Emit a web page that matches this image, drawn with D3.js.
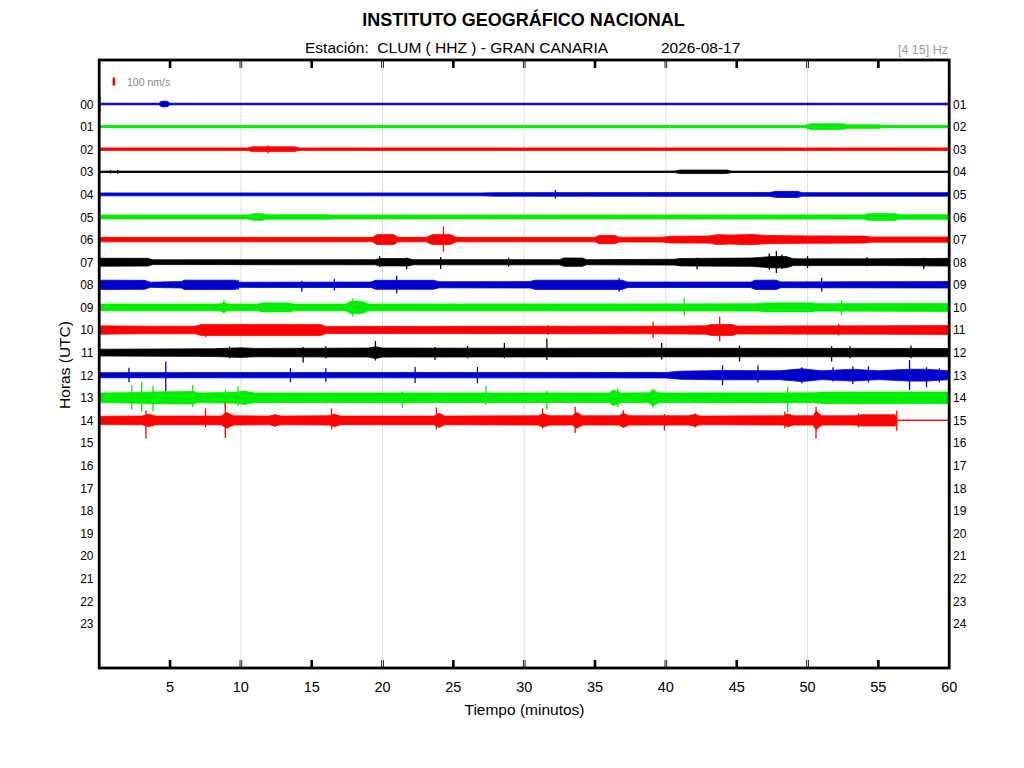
<!DOCTYPE html>
<html>
  <head>
    <meta charset="utf-8">
    <title>CLUM helicorder</title>
    <style>
      body { margin: 0; background: #fff; }
      text { font-family: "Liberation Sans", Arial, sans-serif; }
    </style>
  </head>
  <body>
    <script src="https://d3js.org/d3.v7.min.js"></script>
    <script>
      // hours shown on the drum (left labels) and the hour each line ends on (right labels)
      var hoursLeft = ['00','01','02','03','04','05','06','07','08','09','10','11','12','13','14','15','16','17','18','19','20','21','22','23'];
      var hoursRight = ['01','02','03','04','05','06','07','08','09','10','11','12','13','14','15','16','17','18','19','20','21','22','23','24'];
      var minuteTicks = [5,10,15,20,25,30,35,40,45,50,55,60];
      var gridMinutes = [10,20,30,40,50];
      var traceColors = ['#0000cc','#00ee00','#ff0000','#000000'];

      // envelope of each hour, [minute, half amplitude in nm/s]
      var env00 = [[0,10],[4.2,10],[4.4,35],[4.8,35],[5.0,10],[60,10]];
      var env01 = [[0,14],[49.8,14],[50.2,35],[52.5,35],[52.8,22],[55,22],[55.3,14],[60,14]];
      var env02 = [[0,16],[10.5,16],[10.8,30],[13.8,30],[14.1,16],[60,16]];
      var env03 = [[0,9],[40.6,9],[41,22],[44.3,22],[44.6,9],[60,9]];
      var env04 = [[0,18],[27,18],[28,22],[47.3,24],[47.8,38],[49.3,38],[49.6,22],[60,22]];
      var env05 = [[0,24],[10.5,24],[10.9,42],[11.5,42],[11.8,28],[16.2,28],[16.5,24],[54,26],[54.3,42],[56.2,42],[56.5,28],[60,28]];
      var env06 = [[0,28],[19.3,28],[19.6,62],[20.8,62],[21.1,28],[23.1,28],[23.5,62],[24.8,62],[25.2,28],[35,28],[35.3,52],[36.4,52],[36.7,30],[39.8,30],[40.3,42],[43,44],[43.6,62],[44.5,56],[46.1,64],[47,52],[50,46],[54,44],[54.5,32],[60,32]];
      var env07 = [[0,50],[3.4,48],[3.8,30],[19.5,32],[19.8,46],[21.8,46],[22.2,32],[32.5,32],[32.8,52],[34.1,52],[34.4,32],[40.6,36],[41,46],[46,52],[47.5,70],[48.5,70],[49,42],[55,42],[60,48]];
      var env08 = [[0,58],[3.2,56],[3.6,32],[5.8,40],[6,58],[9.6,58],[9.9,32],[19.2,34],[19.5,56],[23.6,56],[24,38],[30.4,40],[30.8,58],[36.9,58],[37.3,34],[46,34],[46.3,58],[47.8,58],[48.1,36],[60,40]];
      var env09 = [[0,42],[8.5,42],[8.8,62],[9.1,42],[11.2,42],[11.5,56],[13.4,56],[13.7,42],[17.4,42],[17.8,80],[18.6,74],[19,42],[41,44],[46.5,46],[47,56],[50.3,56],[50.6,46],[60,50]];
      var env10 = [[0,52],[3,48],[6.8,48],[7.2,70],[15.6,70],[16,44],[30,46],[39,48],[42.8,52],[43.2,68],[44.7,68],[45,50],[55,52],[60,56]];
      var env11 = [[0,42],[8,48],[10,60],[11,52],[19,56],[19.5,74],[20,56],[30,54],[60,52]];
      var env12 = [[0,32],[40,34],[41,50],[44,58],[48,55],[49.6,80],[51,55],[53.2,74],[55,55],[57.2,74],[58.4,74],[60,55]];
      var env13 = [[0,60],[2,64],[4,74],[6.6,78],[7,60],[9.7,68],[10.2,84],[11,60],[36,60],[36.3,98],[36.8,60],[38.8,62],[39.1,98],[39.5,60],[50.5,62],[51,72],[60,72]];
      var env14 = [[0,52],[3,54],[3.5,78],[4,54],[8.6,54],[9,98],[9.5,58],[12,54],[12.4,70],[12.8,54],[16.3,58],[16.6,80],[17,54],[23.6,54],[24,88],[24.4,54],[31,58],[31.3,84],[31.8,58],[33.4,58],[33.7,98],[34.1,58],[36.7,58],[37,88],[37.4,58],[41.6,58],[42,74],[42.4,54],[48.3,58],[48.6,80],[49,58],[50.4,58],[50.6,115],[51,58],[53.4,58],[53.8,70],[56.2,70],[56.3,0],[60,0]];

      // isolated peaks, [minute, up nm/s, down nm/s]
      var spk00 = [[0.05,110,110]];
      var spk01 = [];
      var spk02 = [[11.9,50,50]];
      var spk03 = [[0.8,22,22],[1.3,22,22]];
      var spk04 = [[32.2,55,50]];
      var spk05 = [[11,40,40]];
      var spk06 = [[24.3,160,150]];
      var spk07 = [[19.8,75,60],[21.7,60,88],[24.1,65,85],[28.9,55,55],[42.2,55,88],[47.3,110,95],[47.8,140,135],[48.2,95,85],[50,75,70],[54.2,62,50],[58.2,55,88]];
      var spk08 = [[9.8,62,62],[14.3,50,88],[16.6,75,70],[21,112,105],[36.7,85,88],[51,88,85]];
      var spk09 = [[8.8,88,75],[17.9,112,118],[41.3,118,100],[52.4,88,100]];
      var spk10 = [[7.5,60,88],[31.7,60,60],[39.1,104,100],[43.8,165,145],[52.2,75,70]];
      var spk11 = [[9.2,75,72],[14.4,70,125],[16,80,72],[19.5,145,100],[23.7,70,92],[26,82,72],[28.6,120,70],[31.6,175,92],[39.7,120,88],[45.2,88,112],[51.7,80,110],[53,78,72],[57.3,88,72]];
      var spk12 = [[2.1,92,88],[4.7,170,205],[13.5,88,88],[16,88,82],[22.3,102,98],[26.7,102,98],[44,125,125],[46.5,125,90],[49.6,100,100],[51.8,100,80],[53.2,112,112],[54.3,112,90],[57.2,190,185],[58.4,100,150],[59.3,88,88]];
      var spk13 = [[2.3,160,150],[3,200,175],[3.8,150,170],[6.6,160,115],[8.9,105,125],[9.8,145,100],[21.4,80,125],[27.3,148,90],[31.6,90,150],[36.6,115,115],[39.1,110,125],[48.6,138,188]];
      var spk14 = [[3.3,125,225],[7.5,150,90],[8.9,220,220],[12.4,78,82],[16.4,150,112],[23.8,162,112],[31.3,150,100],[33.6,168,156],[37,125,85],[39.9,80,125],[42.1,88,88],[48.4,112,100],[50.6,170,225],[53.6,88,88],[56.3,125,125]];

      var envelopes = [env00,env01,env02,env03,env04,env05,env06,env07,env08,env09,env10,env11,env12,env13,env14];
      var spikes = [spk00,spk01,spk02,spk03,spk04,spk05,spk06,spk07,spk08,spk09,spk10,spk11,spk12,spk13,spk14];

      var w = 1024, h = 768;
      var plotL = 99.2, plotR = 949.2, plotT = 60, plotB = 668;

      var svg = d3.select('body').append('svg').attr('width', w).attr('height', h);

      var x = d3.scaleLinear().domain([0, 60]).range([plotL, plotR]);
      var y = d3.scaleLinear().domain([-1.947, 24.956]).range([plotT, plotB]);
      var amp = d3.scaleLinear().domain([0, 100]).range([0, 8]);

      // titles
      svg.append('text').attr('x', 523.5).attr('y', 26).attr('text-anchor', 'middle')
        .style('font-size', '18px').style('font-weight', 'bold')
        .text('INSTITUTO GEOGRÁFICO NACIONAL');
      svg.append('text').attr('x', 305).attr('y', 52.5)
        .style('font-size', '15.5px').style('white-space', 'pre')
        .text('Estación:  CLUM ( HHZ ) - GRAN CANARIA');
      svg.append('text').attr('x', 661).attr('y', 52.5)
        .style('font-size', '15.5px')
        .text('2026-08-17');
      svg.append('text').attr('x', 948).attr('y', 54).attr('text-anchor', 'end')
        .style('font-size', '12.5px').style('fill', '#9a9a9a')
        .text('[4 15] Hz');

      // inward ticks top and bottom
      var ticks = svg.append('g');
      minuteTicks.filter(function(m){ return m < 60; }).forEach(function(m){
        ticks.append('line').attr('x1', x(m)).attr('x2', x(m)).attr('y1', plotT).attr('y2', plotT + 8)
          .style('stroke', '#000').style('stroke-width', 2.6);
        ticks.append('line').attr('x1', x(m)).attr('x2', x(m)).attr('y1', plotB).attr('y2', plotB - 8)
          .style('stroke', '#000').style('stroke-width', 2.6);
      });

      // grid
      svg.append('g').selectAll('line').data(gridMinutes).enter().append('line')
        .attr('x1', function(d){ return x(d); }).attr('x2', function(d){ return x(d); })
        .attr('y1', plotT).attr('y2', plotB)
        .style('stroke', '#dcdcdc').style('stroke-width', 1);

      // scale bar
      svg.append('rect').attr('x', 112.6).attr('y', 81.5 - amp(100) / 2).attr('width', 2.6).attr('height', amp(100))
        .style('fill', '#ff0000');
      svg.append('text').attr('x', 127).attr('y', 85.5)
        .style('font-size', '10.5px').style('fill', '#8a8a8a')
        .text('100 nm/s');

      // traces
      var area = d3.area()
        .x(function(d){ return x(d[0]); });

      var traces = svg.append('g');
      envelopes.forEach(function(env, i){
        var c = traceColors[i % 4];
        var y0 = y(i);
        traces.append('line').attr('x1', x(0)).attr('x2', x(60)).attr('y1', y0).attr('y2', y0)
          .style('stroke', c).style('stroke-width', 1.2);
        traces.append('path').datum(env)
          .attr('d', area.y0(function(d){ return y0 - amp(d[1]); }).y1(function(d){ return y0 + amp(d[1]); }))
          .style('fill', c).style('stroke', c).style('stroke-width', 0.8).style('stroke-linejoin', 'round');
        traces.selectAll(null).data(spikes[i]).enter().append('line')
          .attr('x1', function(d){ return x(d[0]); }).attr('x2', function(d){ return x(d[0]); })
          .attr('y1', function(d){ return y0 - amp(d[1]); }).attr('y2', function(d){ return y0 + amp(d[2]); })
          .style('stroke', c).style('stroke-width', 1.3);
      });

      // hour labels
      svg.append('g').selectAll('text').data(hoursLeft).enter().append('text')
        .attr('x', 93.5).attr('y', function(d, i){ return y(i) + 4.5; }).attr('text-anchor', 'end')
        .style('font-size', '12px').text(function(d){ return d; });
      svg.append('g').selectAll('text').data(hoursRight).enter().append('text')
        .attr('x', 953).attr('y', function(d, i){ return y(i) + 4.5; })
        .style('font-size', '12px').text(function(d){ return d; });

      // minute labels
      svg.append('g').selectAll('text').data(minuteTicks).enter().append('text')
        .attr('x', function(d){ return x(d); }).attr('y', 692).attr('text-anchor', 'middle')
        .style('font-size', '14.5px').text(function(d){ return d; });

      svg.append('text').attr('x', 524.5).attr('y', 715).attr('text-anchor', 'middle')
        .style('font-size', '15.5px').text('Tiempo (minutos)');
      svg.append('text').attr('transform', 'translate(70,365) rotate(-90)').attr('text-anchor', 'middle')
        .style('font-size', '15.5px').text('Horas (UTC)');

      // frame
      svg.append('rect').attr('x', plotL).attr('y', plotT).attr('width', plotR - plotL).attr('height', plotB - plotT)
        .style('fill', 'none').style('stroke', '#000').style('stroke-width', 2.8);
    </script>
  </body>
</html>
